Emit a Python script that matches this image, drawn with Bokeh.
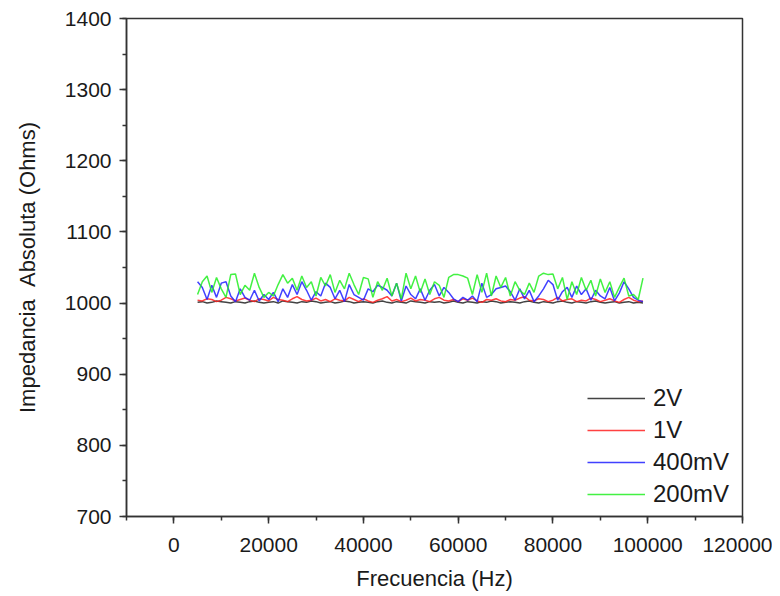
from bokeh.plotting import figure
from bokeh.models import Range1d, FixedTicker, Legend, LegendItem
from bokeh.embed import file_html
from bokeh.resources import INLINE

freq = list(range(5000, 100000, 1000))

z_2V = [
    1001, 1002, 1000, 1001, 1003, 1002, 1001, 1000, 1002, 1001,
    1000, 1002, 1003, 1001, 1000, 1001, 1002, 1000, 1003, 1002,
    1001, 1000, 1002, 1001, 1003, 1002, 1000, 1001, 1002, 1000,
    1001, 1003, 1002, 1000, 1001, 1002, 1001, 1000, 1002, 1003,
    1001, 1000, 1002, 1001, 1000, 1003, 1002, 1001, 1000, 1002,
    1001, 1002, 1000, 1001, 1003, 1001, 1000, 1002, 1001, 1000,
    1002, 1001, 1003, 1002, 1000, 1001, 1002, 1001, 1000, 1002,
    1003, 1001, 1000, 1002, 1001, 1000, 1002, 1003, 1001, 1000,
    1002, 1001, 1000, 1002, 1003, 1001, 1000, 1001, 1002, 1000,
    1001, 1002, 1000, 1001, 1000,
]

z_1V = [
    1004, 1003, 1006, 1005, 1002, 1004, 1008, 1006, 1003, 1005,
    1007, 1004, 1002, 1006, 1005, 1003, 1008, 1005, 1004, 1002,
    1006, 1009, 1005, 1003, 1004, 1007, 1003, 1005, 1002, 1006,
    1004, 1003, 1008, 1005, 1002, 1006, 1003, 1001, 1004, 1006,
    1009, 1003, 1005, 1002, 1004, 1007, 1003, 1005, 1004, 1002,
    1006, 1008, 1004, 1003, 1005, 1002, 1006, 1004, 1007, 1003,
    1001, 1005, 1004, 1006, 1003, 1002, 1005, 1004, 1007, 1009,
    1004, 1003, 1006, 1005, 1002, 1004, 1008, 1003, 1005, 1006,
    1002, 1004, 1003, 1007, 1005, 1002, 1004, 1006, 1003, 1001,
    1005, 1008, 1004, 1002, 1003,
]

z_400mV = [
    1030, 1022, 1005, 1025, 1008, 1028, 1030, 1010, 1002, 1020,
    1008, 1004, 1018, 1003, 1012, 1005, 1015, 1002, 1020, 1008,
    1026, 1012, 1030, 1018, 1004, 1016, 1010, 1028, 1022, 1006,
    1018, 1002, 1026, 1012, 1008, 1004, 1020, 1016, 1025, 1022,
    1018, 1010, 1028, 1003, 1024, 1012, 1006, 1020, 1004, 1018,
    1026, 1010, 1022, 1015, 1006, 1002, 1008, 1004, 1010, 1002,
    1028, 1008, 1012, 1020, 1022, 1024, 1016, 1004, 1020, 1006,
    1018, 1002, 1010, 1020, 1032, 1026, 1004, 1016, 1022, 1008,
    1024, 1012, 1020, 1004, 1018, 1010, 1006, 1022, 1003, 1014,
    1030, 1020, 1008, 1004, 1002,
]

z_200mV = [
    1012, 1030, 1038, 1015, 1036, 1020, 1008, 1040, 1041, 1012,
    1025, 1018, 1042, 1022, 1008, 1015, 1010, 1026, 1040, 1028,
    1035, 1018, 1038, 1022, 1030, 1010, 1036, 1024, 1040, 1015,
    1032, 1020, 1042, 1026, 1012, 1036, 1034, 1008, 1030, 1018,
    1035, 1010, 1028, 1006, 1042, 1020, 1038, 1015, 1034, 1012,
    1030, 1025, 1008, 1036, 1040, 1040, 1038, 1035, 1012, 1040,
    1015, 1042, 1010, 1038, 1022, 1036, 1010, 1030, 1018, 1012,
    1028, 1015, 1038, 1042, 1040, 1041, 1020, 1036, 1005, 1030,
    1012, 1036, 1018, 1032, 1010, 1034, 1015, 1030, 1008, 1022,
    1035, 1010, 1012, 1005, 1035,
]

series_names = ["2V", "1V", "400mV", "200mV"]
series_values = [z_2V, z_1V, z_400mV, z_200mV]
series_colors = ["#222222", "#ff2020", "#2020ff", "#22ee22"]

x_ticks = [0, 20000, 40000, 60000, 80000, 100000, 120000]
y_ticks = [700, 800, 900, 1000, 1100, 1200, 1300, 1400]

FONT = "Liberation Sans"
TXT = "#1a1a1a"
AX = "#333333"

p = figure(
    frame_width=616, frame_height=498,
    min_border_left=126, min_border_right=30,
    min_border_top=18, min_border_bottom=72,
    x_range=Range1d(-10000, 120000), y_range=Range1d(700, 1400),
    output_backend="svg", toolbar_location=None,
    background_fill_color="white", border_fill_color="white",
)
p.grid.visible = False
p.outline_line_color = AX
p.outline_line_width = 1.5

p.xaxis.ticker = FixedTicker(ticks=x_ticks, minor_ticks=list(range(-10000, 120001, 10000)))
p.yaxis.ticker = FixedTicker(ticks=y_ticks, minor_ticks=list(range(700, 1401, 50)))

for ax in (p.xaxis, p.yaxis):
    ax.axis_line_color = AX
    ax.axis_line_width = 1.5
    ax.major_tick_line_color = AX
    ax.major_tick_line_width = 1.5
    ax.minor_tick_line_color = AX
    ax.minor_tick_line_width = 1.5
    ax.major_tick_out = 7
    ax.major_tick_in = 0
    ax.minor_tick_out = 4
    ax.minor_tick_in = 0
    ax.major_label_text_font = FONT
    ax.major_label_text_font_size = "21px"
    ax.major_label_text_color = TXT
    ax.axis_label_text_font = FONT
    ax.axis_label_text_font_size = "22px"
    ax.axis_label_text_font_style = "normal"
    ax.axis_label_text_color = TXT

p.xaxis.axis_label = "Frecuencia (Hz)"
p.yaxis.axis_label = "Impedancia \u00a0Absoluta (Ohms)"
p.xaxis.major_label_standoff = 14
p.yaxis.major_label_standoff = 8
p.xaxis.axis_label_standoff = 11
p.yaxis.axis_label_standoff = 22
p.xaxis.formatter.use_scientific = False
p.yaxis.formatter.use_scientific = False

items = []
for name, vals, col in zip(series_names, series_values, series_colors):
    r = p.line(freq, vals, line_color=col, line_width=1.5, line_alpha=0.85)
    items.append(LegendItem(label=name, renderers=[r]))

legend = Legend(items=items, location=(461, 6))
legend.border_line_color = None
legend.background_fill_alpha = 0
legend.padding = 0
legend.margin = 0
legend.spacing = 0
legend.glyph_width = 58
legend.glyph_height = 32
legend.label_height = 32
legend.label_standoff = 8
legend.label_text_font = FONT
legend.label_text_font_size = "24px"
legend.label_text_color = TXT
p.add_layout(legend, "center")

open("out.html", "w").write(file_html(p, INLINE))
